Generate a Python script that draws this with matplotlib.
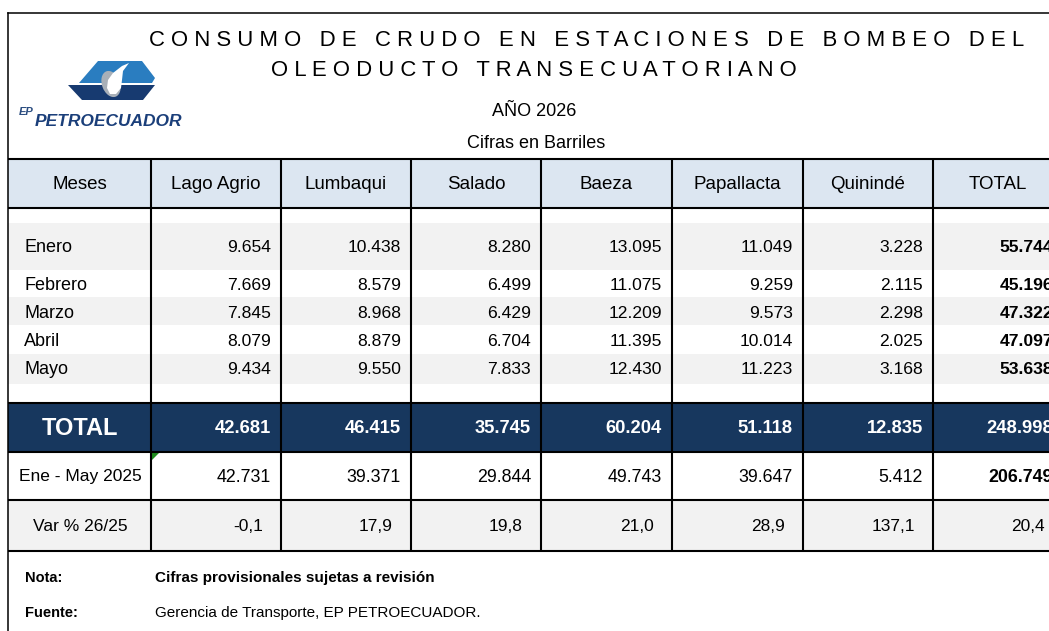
import matplotlib
matplotlib.use("Agg")
import matplotlib.pyplot as plt
from matplotlib.patches import Rectangle, Polygon, Ellipse

# ---------------- data ----------------
title_line1 = "CONSUMO DE CRUDO EN ESTACIONES DE BOMBEO DEL"
title_line2 = "OLEODUCTO TRANSECUATORIANO"
year_label = "AÑO 2026"
units_label = "Cifras en Barriles"

header_first = "Meses"
stations = ["Lago Agrio", "Lumbaqui", "Salado", "Baeza", "Papallacta", "Quinindé", "TOTAL"]
months = ["Enero", "Febrero", "Marzo", "Abril", "Mayo"]

lago_agrio = [9654, 7669, 7845, 8079, 9434]
lumbaqui = [10438, 8579, 8968, 8879, 9550]
salado = [8280, 6499, 6429, 6704, 7833]
baeza = [13095, 11075, 12209, 11395, 12430]
papallacta = [11049, 9259, 9573, 10014, 11223]
quininde = [3228, 2115, 2298, 2025, 3168]
total_month = [55744, 45196, 47322, 47097, 53638]

total_label = "TOTAL"
total_row = [42681, 46415, 35745, 60204, 51118, 12835, 248998]
prev_label = "Ene - May 2025"
prev_row = [42731, 39371, 29844, 49743, 39647, 5412, 206749]
var_label = "Var % 26/25"
var_row = [-0.1, 17.9, 19.8, 21.0, 28.9, 137.1, 20.4]

note_label = "Nota:"
note_text = "Cifras provisionales sujetas a revisión"
source_label = "Fuente:"
source_text = "Gerencia de Transporte, EP PETROECUADOR."

# ---------------- helpers ----------------
def fmt_int(v):
    return f"{v:,}".replace(",", ".")

def fmt_dec(v):
    return f"{v:.1f}".replace(".", ",")

def spaced(s):
    return "   ".join(" ".join(w) for w in s.split(" "))

FONT = "Liberation Sans"
plt.rcParams["font.family"] = [FONT, "DejaVu Sans"]

W, H = 1049, 631
fig = plt.figure(figsize=(W / 100, H / 100), dpi=100)
ax = fig.add_axes([0, 0, 1, 1])
ax.set_xlim(0, W)
ax.set_ylim(H, 0)
ax.axis("off")

NAVY = "#17375E"
HEAD = "#DCE6F1"
GRAY = "#F2F2F2"

# column edges
col_edges = [8, 151, 281, 411, 541, 672, 803, 933, 1063]

# row geometry (pixel layout)
y_head_top, y_head_bot = 159, 208
month_bands = [(223, 270), (270, 297), (297, 325), (325, 354), (354, 384)]
y_total = (403, 452)
y_prev = (452, 500)
y_var = (500, 551)

# backgrounds
ax.add_patch(Rectangle((8, y_head_top), W, y_head_bot - y_head_top, color=HEAD, lw=0))
for i, (a, b) in enumerate(month_bands):
    if i % 2 == 0:
        ax.add_patch(Rectangle((8, a), W, b - a, color=GRAY, lw=0))
ax.add_patch(Rectangle((8, y_total[0]), W, y_total[1] - y_total[0], color=NAVY, lw=0))
ax.add_patch(Rectangle((8, y_var[0]), W, y_var[1] - y_var[0], color=GRAY, lw=0))

# lines
LW = 1.5
ax.plot([8, W], [13, 13], color="black", lw=1.1)
ax.plot([8, 8], [13, H], color="black", lw=1.1)
for y in [y_head_top, y_head_bot, y_total[0], y_total[1], y_prev[1], y_var[1]]:
    ax.plot([8, W], [y, y], color="black", lw=LW, solid_capstyle="butt")
for x in col_edges[1:-1]:
    ax.plot([x, x], [y_head_top, y_var[1]], color="black", lw=LW, solid_capstyle="butt")

# green comment marker
ax.add_patch(Polygon([(152, 453), (159, 453), (152, 460)], closed=True, color="#1E8C1E", lw=0))

# ---------------- title ----------------
ax.text(587, 41, spaced(title_line1), ha="center", va="center", fontsize=15.9, color="black")
ax.text(534, 70, spaced(title_line2), ha="center", va="center", fontsize=15.9, color="black")
ax.text(534, 111, year_label, ha="center", va="center", fontsize=13, color="black")
ax.text(536, 143, units_label, ha="center", va="center", fontsize=13, color="black")

# ---------------- logo ----------------
LB = "#2A7DC0"
DB = "#173A70"
upper = [(79, 83), (98, 61), (142, 61), (155, 78), (152, 83)]
lower = [(68, 85), (155, 85), (143, 100), (82, 100)]
ax.add_patch(Polygon(upper, closed=True, color=LB, lw=0))
ax.add_patch(Polygon(lower, closed=True, color=DB, lw=0))
ax.add_patch(Ellipse((111, 84), 18, 27, angle=-20, color="#A9B0B8", lw=0))
drop = [(129, 63), (123, 71), (122, 80), (121, 88), (116, 94), (110, 94), (107, 88),
        (108, 80), (113, 73), (122, 66)]
ax.add_patch(Polygon(drop, closed=True, color="white", lw=0))
ax.text(35, 121, "PETROECUADOR", ha="left", va="center", fontsize=12.5, fontweight="bold",
        fontstyle="italic", color="#1B3F7A")
ax.text(19, 112, "EP", ha="left", va="center", fontsize=8, fontstyle="italic",
        fontweight="bold", color="#2B4D80")

# ---------------- header ----------------
ycen_head = (y_head_top + y_head_bot) / 2 + 1
ax.text((col_edges[0] + col_edges[1]) / 2, ycen_head, header_first, ha="center", va="center", fontsize=13.5)
for j, name in enumerate(stations):
    xc = (col_edges[j + 1] + col_edges[j + 2]) / 2
    ax.text(xc, ycen_head, name, ha="center", va="center", fontsize=13.5)

# ---------------- month rows ----------------
columns = [lago_agrio, lumbaqui, salado, baeza, papallacta, quininde, total_month]
month_y = [247, 285, 313, 341, 369]
for i, m in enumerate(months):
    y = month_y[i]
    ax.text(24, y, m, ha="left", va="center", fontsize=13)
    for j, col in enumerate(columns):
        xr = col_edges[j + 2] - 10
        bold = (j == len(columns) - 1)
        ax.text(xr, y, fmt_int(col[i]), ha="right", va="center", fontsize=12.6,
                fontweight="bold" if bold else "normal")

# ---------------- total row ----------------
yt = (y_total[0] + y_total[1]) / 2 + 1
ax.text(80, yt, total_label, ha="center", va="center", fontsize=17, fontweight="bold", color="white")
for j, v in enumerate(total_row):
    ax.text(col_edges[j + 2] - 10, yt, fmt_int(v), ha="right", va="center", fontsize=13.2,
            fontweight="bold", color="white")

# ---------------- previous year ----------------
yp = (y_prev[0] + y_prev[1]) / 2 + 1
ax.text(80, yp, prev_label, ha="center", va="center", fontsize=12.5)
for j, v in enumerate(prev_row):
    bold = (j == len(prev_row) - 1)
    ax.text(col_edges[j + 2] - 10, yp, fmt_int(v), ha="right", va="center", fontsize=12.8,
            fontweight="bold" if bold else "normal")

# ---------------- variation ----------------
yv = (y_var[0] + y_var[1]) / 2 + 1
ax.text(80, yv, var_label, ha="center", va="center", fontsize=12.5)
for j, v in enumerate(var_row):
    ax.text(col_edges[j + 2] - 18, yv, fmt_dec(v), ha="right", va="center", fontsize=12.5)

# ---------------- notes ----------------
ax.text(25, 578, note_label, ha="left", va="center", fontsize=10.5, fontweight="bold")
ax.text(155, 578, note_text, ha="left", va="center", fontsize=11, fontweight="bold")
ax.text(25, 613, source_label, ha="left", va="center", fontsize=10.5, fontweight="bold")
ax.text(155, 613, source_text, ha="left", va="center", fontsize=11)

fig.savefig("out.png", dpi=100)
